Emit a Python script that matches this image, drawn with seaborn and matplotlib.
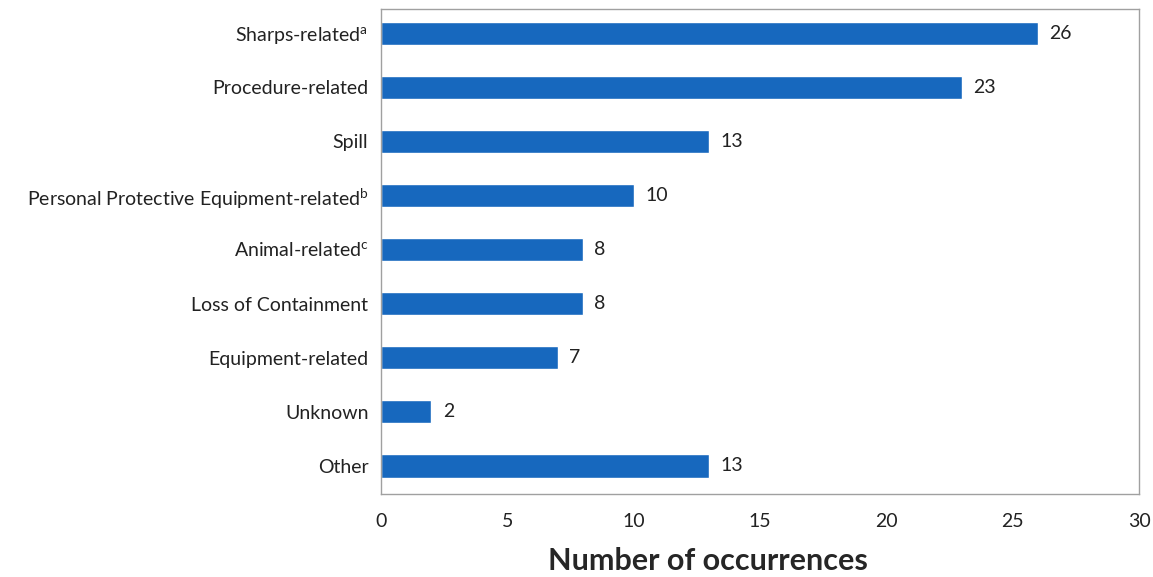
#! /usr/bin/env python3
# horizontal bar chart of occurrence counts by incident type
import matplotlib.pyplot as plt
import pandas as pd
import seaborn as sns

categories = ["Sharps-related$^{\\mathregular{a}}$", "Procedure-related", "Spill",
              "Personal Protective Equipment-related$^{\\mathregular{b}}$",
              "Animal-related$^{\\mathregular{c}}$", "Loss of Containment",
              "Equipment-related", "Unknown", "Other"]
counts = [26, 23, 13, 10, 8, 8, 7, 2, 13]
xticks = [0, 5, 10, 15, 20, 25, 30]

sns.set_style("white")
plt.rcParams['font.family'] = ['Lato', 'DejaVu Sans']

df = pd.DataFrame({"category": categories, "count": counts})

fig = plt.figure(figsize=(11.53, 5.77), dpi=100)
ax = fig.add_axes([0.3304, 0.1438, 0.6575, 0.8406])
sns.barplot(data=df, x="count", y="category", color="#1768be", saturation=1,
            width=0.43, ax=ax)

for i, v in enumerate(counts):
    ax.text(v + 0.45, i, str(v), va="center", ha="left", fontsize=14, color="#222222")

ax.set_xlim(0, 30)
ax.set_ylim(8.52, -0.45)
ax.set_xticks(xticks)
ax.tick_params(axis="both", length=0, labelsize=14, colors="#222222")
ax.tick_params(axis="x", pad=14)
ax.tick_params(axis="y", pad=9)
ax.set_ylabel("")
ax.set_xlabel("Number of occurrences", fontsize=22, fontweight="bold")
ax.xaxis.set_label_coords(0.431, -0.11)
for s in ax.spines.values():
    s.set_color("#a0a0a0")
    s.set_linewidth(1.0)

fig.savefig("out.png", dpi=100)
plt.close()
